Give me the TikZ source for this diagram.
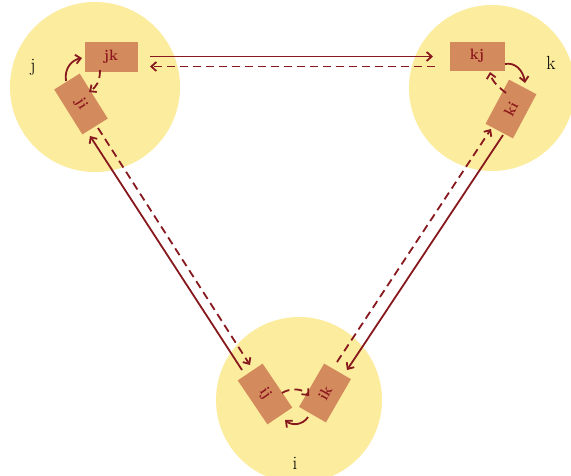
\documentclass[tikz,border=0pt]{standalone}
\usetikzlibrary{arrows.meta,calc}
\definecolor{circfill}{RGB}{252,236,158}
\definecolor{boxfill}{RGB}{211,138,92}
\definecolor{arr}{RGB}{135,25,30}
\definecolor{boxtext}{RGB}{140,22,28}
\tikzset{
  site/.style={circle,fill=circfill,draw=none,minimum size=#1,inner sep=0pt},
  boxnode/.style={rectangle,fill=boxfill,draw=none,minimum width=53pt,minimum height=30pt,inner sep=0pt,
    text=boxtext,font=\fontsize{15}{17}\selectfont\bfseries},
  lbl/.style={font=\fontsize{19}{21}\selectfont,text=black},
  solidarr/.style={draw=arr,line width=1.8pt,-{Straight Barb[length=5pt,width=9pt]}},
  dasharr/.style={draw=arr,line width=1.8pt,dash pattern=on 8pt off 5pt,-{Straight Barb[length=5pt,width=9pt]}},
}
\begin{document}
\begin{tikzpicture}[x=1pt,y=-1pt]
\useasboundingbox (0,0) rectangle (571,475);
\fill[white] (0,0) rectangle (571,475);
% sites
\node[site=170pt] (cj) at (95,87) {};
\node[site=166pt] (ck) at (492,88) {};
\node[site=166pt] (ci) at (299,400) {};
% labels
\node[lbl] (lj) at (33,67) {j};
\node[lbl] (lk) at (551,63) {k};
\node[lbl] (li) at (295,463) {i};
% boxes
\node[boxnode] (jk) at (111,57) {jk};
\node[boxnode,rotate=-58] (ji) at (81,104) {ji};
\node[boxnode,minimum width=55pt,minimum height=29pt] (kj) at (477,56) {kj};
\node[boxnode,rotate=62,minimum width=50pt,minimum height=31pt] (ki) at (511,109) {ki};
\node[boxnode,rotate=-56] (ij) at (265,394) {ij};
\node[boxnode,rotate=60,minimum width=50pt,minimum height=31pt] (ik) at (325,393) {ik};
% long-range connectors
\draw[solidarr] ([shift={(39,-0.5)}]jk.center) -- ([shift={(-44,0.5)}]kj.center);
\draw[dasharr] ([shift={(-42,10.5)}]kj.center) -- ([shift={(39,9.5)}]jk.center);
\draw[solidarr] ([shift={(-23,-24)}]ij.center) -- ([shift={(9,32)}]ji.center);
\draw[dasharr] ([shift={(17,24)}]ji.center) -- ([shift={(-15,-29)}]ij.center);
\draw[solidarr] ([shift={(-8,26)}]ki.center) -- ([shift={(22,-23)}]ik.center);
\draw[dasharr] ([shift={(12,-31)}]ik.center) -- ([shift={(-20,20)}]ki.center);
% local connectors
\draw[solidarr] ([shift={(-15,-23)}]ji.center) .. controls (64,68) and (72,60) .. ([shift={(-29,1)}]jk.center);
\draw[dasharr] ([shift={(-11,13)}]jk.center) .. controls (100,82) and (96,87) .. ([shift={(8,-12)}]ji.center);
\draw[solidarr] ([shift={(28,8)}]kj.center) .. controls (515,62) and (523,70) .. ([shift={(14,-26)}]ki.center);
\draw[dasharr] ([shift={(-5,-16)}]ki.center) .. controls (500,88) and (492,82) .. ([shift={(13,16)}]kj.center);
\draw[dasharr] ([shift={(17,-1)}]ij.center) .. controls (290,388) and (302,388) .. ([shift={(-16,3)}]ik.center);
\draw[solidarr] ([shift={(-17,24)}]ik.center) .. controls (303,425) and (292,426) .. ([shift={(20,26)}]ij.center);
\end{tikzpicture}
\end{document}
